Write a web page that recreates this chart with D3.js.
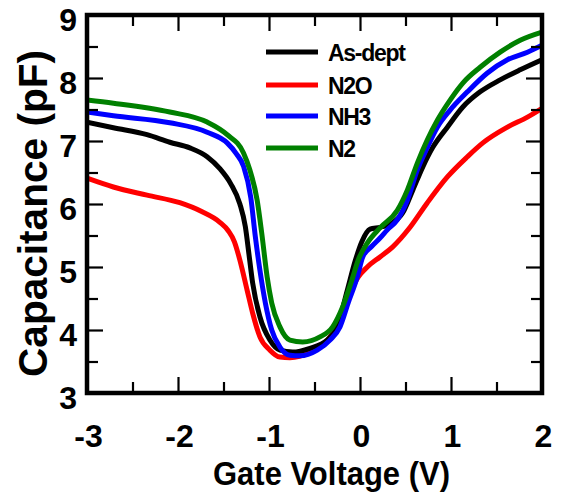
<!DOCTYPE html>
<html>
<head>
<meta charset="utf-8">
<script src="https://cdn.jsdelivr.net/npm/d3@7"></script>
<style>
  html, body { margin: 0; padding: 0; background: #fff; }
  svg { display: block; }
  text { font-family: "Liberation Sans", Arial, Helvetica, sans-serif; font-weight: bold; fill: #000; }
</style>
</head>
<body>
<svg id="chart" width="566" height="497"></svg>
<script>
// ---- data ----
const seriesNames = ["As-dept", "N2O", "NH3", "N2"];
const seriesColors = ["#000000", "#ff0000", "#0000ff", "#008000"];

const asDeptV = [-3.00,-2.71,-2.34,-2.09,-1.87,-1.68,-1.54,-1.42,-1.32,-1.26,-1.22,-1.18,-1.10,-0.99,-0.88,-0.74,-0.55,-0.36,-0.25,-0.14,-0.05,0.02,0.11,0.22,0.36,0.47,0.58,0.69,0.80,0.96,1.13,1.32,1.54,1.76,2.00];
const asDeptC = [7.30,7.21,7.10,6.98,6.89,6.75,6.56,6.32,6.00,5.64,5.20,4.75,4.21,3.84,3.68,3.65,3.71,3.84,4.05,4.63,5.11,5.40,5.60,5.63,5.70,5.86,6.22,6.59,6.90,7.22,7.54,7.78,7.97,8.13,8.29];

const n2oV = [-3.00,-2.71,-2.34,-1.98,-1.74,-1.54,-1.45,-1.38,-1.32,-1.24,-1.18,-1.10,-0.99,-0.88,-0.77,-0.55,-0.33,-0.22,-0.11,-0.02,0.08,0.22,0.36,0.55,0.74,0.96,1.18,1.35,1.62,1.84,2.00];
const n2oC = [6.41,6.27,6.14,6.02,5.88,5.71,5.58,5.40,5.11,4.63,4.27,3.89,3.68,3.57,3.56,3.65,3.89,4.16,4.59,4.84,5.00,5.16,5.32,5.63,6.02,6.43,6.75,6.97,7.22,7.38,7.52];

const nh3V = [-3.00,-2.71,-2.09,-1.68,-1.46,-1.36,-1.28,-1.20,-1.15,-1.10,-1.04,-0.97,-0.88,-0.77,-0.66,-0.47,-0.33,-0.22,-0.13,-0.03,0.03,0.13,0.22,0.30,0.41,0.52,0.63,0.74,0.85,0.99,1.18,1.40,1.62,1.84,2.00];
const nh3C = [7.46,7.40,7.29,7.14,6.97,6.80,6.60,6.10,5.48,4.95,4.43,4.00,3.73,3.60,3.59,3.68,3.84,4.05,4.43,4.84,5.16,5.33,5.46,5.59,5.75,6.06,6.54,6.90,7.22,7.49,7.78,8.08,8.29,8.41,8.52];

const n2V = [-3.00,-2.71,-2.09,-1.68,-1.46,-1.28,-1.21,-1.13,-1.08,-1.02,-0.97,-0.88,-0.77,-0.63,-0.44,-0.30,-0.19,-0.09,-0.02,0.08,0.22,0.41,0.52,0.63,0.74,0.85,0.99,1.13,1.32,1.54,1.76,2.00];
const n2C = [7.65,7.60,7.46,7.30,7.10,6.81,6.54,6.06,5.54,4.84,4.43,4.05,3.84,3.81,3.89,4.05,4.37,4.79,5.11,5.38,5.62,5.90,6.22,6.65,7.02,7.33,7.65,7.92,8.17,8.41,8.60,8.73];

const xMajorTicks = [-3, -2, -1, 0, 1, 2];
const xMinorTicks = [-2.5, -1.5, -0.5, 0.5, 1.5];
const yMajorTicks = [3, 4, 5, 6, 7, 8, 9];
const yMinorTicks = [3.5, 4.5, 5.5, 6.5, 7.5, 8.5];

const xTitle = "Gate Voltage (V)";
const yTitle = "Capacitance (pF)";

// ---- build ----
const series = [
  {name: seriesNames[0], color: seriesColors[0], v: asDeptV, c: asDeptC},
  {name: seriesNames[1], color: seriesColors[1], v: n2oV, c: n2oC},
  {name: seriesNames[2], color: seriesColors[2], v: nh3V, c: nh3C},
  {name: seriesNames[3], color: seriesColors[3], v: n2V, c: n2C}
];

const svg = d3.select("#chart");
const x = d3.scaleLinear().domain([-3, 2]).range([87, 542]);
const y = d3.scaleLinear().domain([3, 9]).range([393, 15]);

const line = d3.line()
  .x(d => x(d[0])).y(d => y(d[1]))
  .curve(d3.curveMonotoneX);

const fmt = d => String(d); // plain hyphen-minus like the reference

// curves (drawn in order: N2O, As-dept, NH3, N2 on top)
const drawOrder = [1, 0, 2, 3];
svg.append("clipPath").attr("id", "clip").append("rect")
  .attr("x", x(-3)).attr("y", y(9)).attr("width", x(2) - x(-3)).attr("height", y(3) - y(9));
svg.append("g").attr("clip-path", "url(#clip)")
  .selectAll("path").data(drawOrder.map(i => series[i])).join("path")
  .attr("d", s => line(s.v.map((vv, i) => [vv, s.c[i]])))
  .attr("fill", "none")
  .attr("stroke", s => s.color)
  .attr("stroke-width", 5)
  .attr("stroke-linejoin", "round")
  .attr("stroke-linecap", "butt");

// axes
const tickFont = 32;
function styleAxis(g) {
  g.select(".domain").remove();
  g.selectAll(".tick line").attr("stroke", "#000").attr("stroke-width", 2.2);
  g.selectAll("text").attr("font-size", tickFont).attr("font-family", null).style("font-weight", "bold");
}

// bottom
svg.append("g").attr("transform", `translate(0,${y(3)})`)
  .call(d3.axisBottom(x).tickValues(xMajorTicks).tickSize(-16).tickSizeOuter(0).tickPadding(31).tickFormat(fmt))
  .call(styleAxis)
  .call(g => g.selectAll("text").attr("dx", 1));
svg.append("g").attr("transform", `translate(0,${y(3)})`)
  .call(d3.axisBottom(x).tickValues(xMinorTicks).tickSize(-11).tickSizeOuter(0).tickFormat(""))
  .call(styleAxis);
// top
svg.append("g").attr("transform", `translate(0,${y(9)})`)
  .call(d3.axisTop(x).tickValues(xMajorTicks).tickSize(-16).tickSizeOuter(0).tickFormat(""))
  .call(styleAxis);
svg.append("g").attr("transform", `translate(0,${y(9)})`)
  .call(d3.axisTop(x).tickValues(xMinorTicks).tickSize(-11).tickSizeOuter(0).tickFormat(""))
  .call(styleAxis);
// left
svg.append("g").attr("transform", `translate(${x(-3)},0)`)
  .call(d3.axisLeft(y).tickValues(yMajorTicks).tickSize(-16).tickSizeOuter(0).tickPadding(10).tickFormat(fmt))
  .call(styleAxis)
  .call(g => g.selectAll("text").attr("dy", "0.47em"));
svg.append("g").attr("transform", `translate(${x(-3)},0)`)
  .call(d3.axisLeft(y).tickValues(yMinorTicks).tickSize(-11).tickSizeOuter(0).tickFormat(""))
  .call(styleAxis);
// right
svg.append("g").attr("transform", `translate(${x(2)},0)`)
  .call(d3.axisRight(y).tickValues(yMajorTicks).tickSize(-16).tickSizeOuter(0).tickFormat(""))
  .call(styleAxis);
svg.append("g").attr("transform", `translate(${x(2)},0)`)
  .call(d3.axisRight(y).tickValues(yMinorTicks).tickSize(-11).tickSizeOuter(0).tickFormat(""))
  .call(styleAxis);

// frame
svg.append("rect")
  .attr("x", x(-3)).attr("y", y(9))
  .attr("width", x(2) - x(-3)).attr("height", y(3) - y(9))
  .attr("fill", "none").attr("stroke", "#000").attr("stroke-width", 4.5);

// axis titles
svg.append("text")
  .attr("x", 213).attr("y", 485)
  .attr("font-size", 33)
  .attr("textLength", 237).attr("lengthAdjust", "spacingAndGlyphs")
  .text(xTitle);
svg.append("text")
  .attr("transform", "translate(47,377) rotate(-90)")
  .attr("font-size", 40)
  .attr("textLength", 327).attr("lengthAdjust", "spacingAndGlyphs")
  .text(yTitle);

// legend
const legendY = [52, 85, 116, 148];
const lg = svg.append("g");
series.forEach((s, i) => {
  lg.append("line")
    .attr("x1", 266).attr("x2", 318)
    .attr("y1", legendY[i]).attr("y2", legendY[i])
    .attr("stroke", s.color).attr("stroke-width", 5);
  lg.append("text")
    .attr("x", 328).attr("y", legendY[i] + 9)
    .attr("font-size", 23)
    .attr("letter-spacing", -1.3)
    .text(s.name);
});
</script>
</body>
</html>
